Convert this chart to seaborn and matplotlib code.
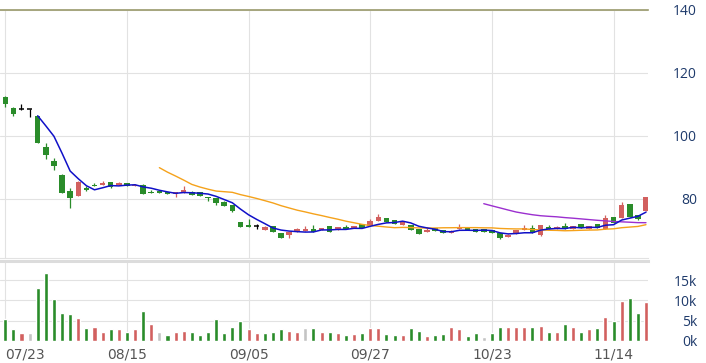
import numpy as np
import pandas as pd
import matplotlib
matplotlib.use("Agg")
import matplotlib.pyplot as plt
import seaborn as sns

# ---------------- data ----------------
tick_pos = [0, 15, 30, 45, 60, 75]
tick_labels = ["07/23", "08/15", "09/05", "09/27", "10/23", "11/14"]

opens = [112.5, 109.0, 108.7, 108.7, 106.3, 96.6, 92.2, 87.6, 82.5, 81.0,
         83.6, 84.2, 84.4, 85.5, 84.5, 85.2, 84.2, 84.4, 82.1, 82.6,
         82.3, 81.6, 82.0, 82.2, 82.2, 80.6, 80.3, 79.2, 78.1, 72.8,
         71.7, 71.3, 70.3, 71.5, 69.1, 68.6, 69.6, 69.9, 70.6, 70.1,
         71.5, 70.1, 71.2, 70.7, 72.0, 71.5, 72.9, 73.9, 73.3, 71.7,
         71.7, 70.4, 69.6, 70.8, 70.2, 69.1, 70.4, 71.0, 70.4, 70.4,
         70.2, 69.2, 67.8, 68.9, 70.1, 70.7, 68.6, 71.0, 70.5, 71.5,
         70.5, 72.0, 70.6, 72.0, 70.5, 74.2, 73.9, 78.4, 74.9, 76.3]
highs = [112.6, 109.2, 110.0, 108.7, 106.5, 97.7, 92.9, 87.8, 83.4, 85.6,
         84.1, 85.2, 85.7, 85.5, 85.5, 85.2, 84.8, 84.9, 83.0, 82.6,
         82.3, 82.3, 84.1, 82.5, 82.2, 80.6, 80.3, 79.3, 78.1, 72.8,
         73.8, 72.0, 71.5, 71.5, 69.1, 69.6, 70.8, 71.5, 71.7, 70.9,
         71.5, 71.2, 71.7, 71.4, 72.0, 73.8, 75.3, 73.9, 73.3, 72.8,
         71.7, 70.4, 71.2, 70.9, 70.2, 70.0, 72.0, 71.0, 70.4, 70.4,
         70.2, 69.2, 68.9, 70.2, 71.6, 71.6, 71.7, 71.7, 71.5, 72.3,
         71.5, 72.0, 71.4, 72.0, 75.0, 74.2, 79.1, 78.4, 74.9, 80.7]
lows = [109.3, 106.4, 108.4, 106.0, 97.7, 92.7, 89.2, 81.8, 77.0, 81.0,
        82.4, 84.0, 84.4, 83.6, 84.5, 84.0, 84.1, 81.6, 81.8, 81.8,
        81.5, 80.5, 82.0, 81.2, 81.0, 79.4, 78.0, 77.8, 76.0, 71.0,
        71.2, 70.6, 70.3, 69.4, 67.7, 67.7, 69.6, 69.9, 69.6, 70.1,
        69.6, 70.1, 70.4, 70.7, 70.7, 71.5, 72.9, 72.8, 72.0, 71.7,
        70.2, 68.9, 69.6, 69.9, 69.1, 69.1, 70.4, 70.3, 69.6, 69.6,
        69.3, 67.2, 67.8, 68.9, 70.1, 69.3, 68.3, 70.4, 70.5, 70.5,
        70.5, 70.7, 70.6, 70.7, 70.5, 72.3, 73.9, 74.4, 73.2, 76.3]
closes = [110.0, 107.0, 108.7, 108.7, 97.7, 94.0, 90.5, 81.8, 80.4, 85.5,
          82.9, 84.0, 85.0, 83.9, 85.0, 84.1, 84.6, 81.6, 81.8, 81.8,
          81.5, 82.3, 82.9, 81.4, 81.0, 80.3, 78.6, 77.8, 76.3, 71.0,
          71.2, 71.3, 71.1, 69.4, 67.7, 69.6, 70.4, 70.4, 69.6, 70.9,
          69.6, 71.2, 70.4, 71.4, 70.7, 73.0, 74.2, 72.8, 72.0, 72.8,
          70.2, 68.9, 70.2, 69.9, 69.1, 69.9, 71.2, 70.3, 69.6, 69.6,
          69.3, 67.5, 68.6, 70.2, 70.8, 69.3, 71.7, 70.4, 71.1, 70.5,
          71.5, 70.7, 71.4, 70.7, 74.1, 72.3, 78.1, 74.4, 73.6, 80.7]
volumes = [5400, 2900, 1900, 1900, 13100, 16800, 10300, 6900, 6600, 5700,
           3300, 3500, 2300, 2900, 2900, 2300, 3000, 7500, 4100, 2100,
           1600, 2100, 2500, 2200, 1600, 2200, 5400, 1900, 3500, 5000,
           3000, 2000, 2000, 2300, 2900, 2500, 2300, 3300, 3200, 2300,
           2200, 2000, 1400, 1700, 1900, 3300, 3300, 1700, 1600, 1600,
           3300, 2500, 1200, 1600, 1700, 3500, 3000, 1300, 1900, 1100,
           1900, 3500, 3400, 3400, 3400, 3400, 3800, 2300, 2300, 4100,
           3500, 2300, 3000, 3300, 6000, 5000, 9900, 10600, 6900, 9700]

# ---------------- styles ----------------
RED = "#d2605f"
GREEN = "#2a8c2a"
GRAY = "#c4c4c4"
GRID = "#e2e2e2"
LABEL_BLUE = "#1e3a6b"

n = len(closes)
idx = np.arange(n)
o = np.array(opens); h = np.array(highs); l = np.array(lows); c = np.array(closes)

close_s = pd.Series(closes)
ma5 = close_s.rolling(5).mean()
ma20 = close_s.rolling(20).mean()
ma60 = close_s.rolling(60).mean()

prev = np.r_[o[0], c[:-1]]
vdir = np.where(np.isclose(c, prev), "flat", np.where(c > prev, "up", "down"))
vol_df = pd.DataFrame({"idx": idx, "vol": volumes, "dir": vdir})

sns.set_theme(style="white")
plt.rcParams["font.family"] = ["Open Sans", "DejaVu Sans"]

W, H = 706, 363
fig = plt.figure(figsize=(W / 100, H / 100), dpi=100)


def rect(x0, y0, x1, y1):
    return [x0 / W, 1 - y1 / H, (x1 - x0) / W, (y1 - y0) / H]


ax = fig.add_axes(rect(0, 10, 648, 258))
axv = fig.add_axes(rect(0, 261, 648, 341))

xlim = (-0.65, 79.25)

# ---- main panel: candles ----
body_w = 0.68
for i in range(n):
    if np.isclose(c[i], o[i]):
        col = "black"
    elif c[i] > o[i]:
        col = RED
    else:
        col = GREEN
    ax.vlines(i, l[i], h[i], color=col, lw=0.9, zorder=3)
    if col == "black":
        ax.hlines(c[i], i - 0.32, i + 0.32, color="black", lw=1.1, zorder=3)
    else:
        ax.bar(i, max(abs(c[i] - o[i]), 0.3), bottom=min(o[i], c[i]),
               width=body_w, color=col, linewidth=0, zorder=3)

sns.lineplot(x=idx, y=ma20, ax=ax, color="#f5a21b", lw=1.0, zorder=4)
sns.lineplot(x=idx, y=ma60, ax=ax, color="#9b2fcf", lw=1.0, zorder=4)
sns.lineplot(x=idx, y=ma5, ax=ax, color="#1010c8", lw=1.1, zorder=5)

ax.set_xlim(*xlim)
ax.set_ylim(140 - 248 / 3.15, 140)
ax.set_yticks([80, 100, 120, 140])
ax.set_xticks(tick_pos)
ax.set_xticklabels([])
ax.yaxis.tick_right()
ax.tick_params(axis="y", length=0, pad=35.3, labelsize=10, labelcolor=LABEL_BLUE)
for t in ax.get_yticklabels():
    t.set_ha("right")
ax.tick_params(axis="x", length=0)
ax.set_axisbelow(True)
ax.grid(True, color=GRID, lw=0.8)
ax.set_xlabel(""); ax.set_ylabel("")
for s in ["left", "right"]:
    ax.spines[s].set_visible(False)
ax.spines["top"].set_color("#9a9a6c")
ax.spines["top"].set_linewidth(1.2)
ax.spines["bottom"].set_color(GRID)
ax.spines["bottom"].set_linewidth(0.8)
ax.set_facecolor("white")

# ---- volume panel ----
sns.barplot(data=vol_df, x="idx", y="vol", hue="dir",
            palette={"up": RED, "down": GREEN, "flat": GRAY},
            dodge=False, native_scale=True, width=0.5, saturation=1,
            errorbar=None, legend=False, ax=axv, zorder=3)
axv.set_xlim(*xlim)
axv.set_ylim(0, 80 * 5000 / 20.3)
axv.set_yticks([0, 5000, 10000, 15000])
axv.set_yticklabels(["0k", "5k", "10k", "15k"])
axv.yaxis.tick_right()
axv.tick_params(axis="y", length=0, pad=35.3, labelsize=10, labelcolor=LABEL_BLUE)
for t in axv.get_yticklabels():
    t.set_ha("right")
axv.set_xticks(tick_pos)
axv.set_xticklabels(tick_labels, family="DejaVu Sans")
axv.tick_params(axis="x", length=0, pad=5, labelsize=10, labelcolor="#555555")
xl = axv.get_xticklabels()
xl[0].set_ha("left")
axv.set_axisbelow(True)
axv.grid(True, color=GRID, lw=0.8)
axv.set_xlabel(""); axv.set_ylabel("")
for s in ["left", "right", "bottom"]:
    axv.spines[s].set_visible(False)
axv.spines["top"].set_color("#dcdcdc")
axv.spines["top"].set_linewidth(2.2)
axv.set_facecolor("white")

fig.savefig("out.png", dpi=100, facecolor="white")
